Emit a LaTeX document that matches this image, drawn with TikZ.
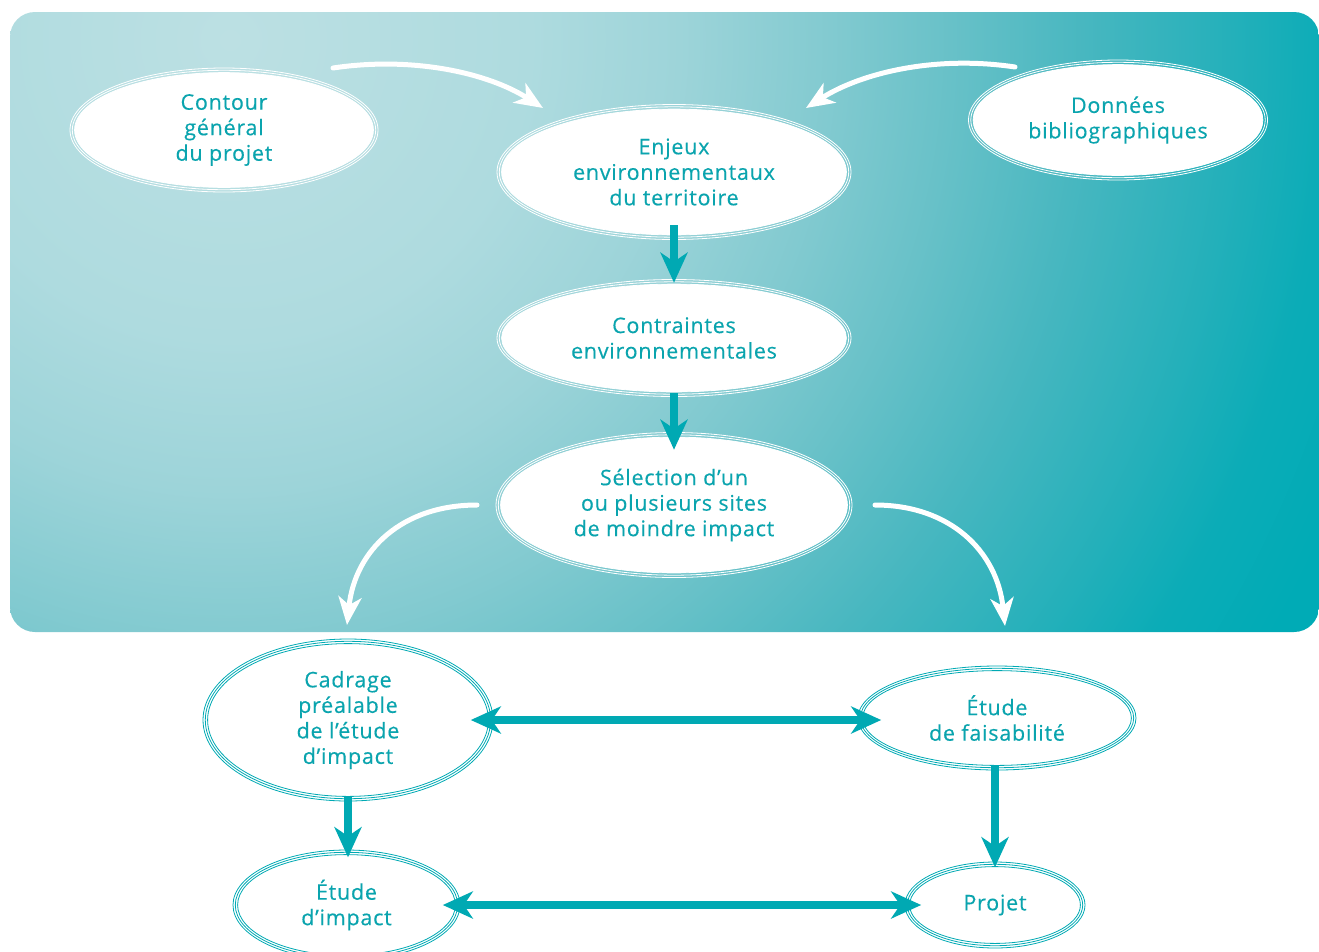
\documentclass[tikz,border=0pt]{standalone}
\usepackage{fontspec}
\setmainfont[LetterSpace=3.5,FakeBold=0.3]{Open Sans}
\usepackage{tikz}
\usetikzlibrary{arrows.meta,shapes.geometric,calc}

\definecolor{sarcelle}{HTML}{00A9B3}
\definecolor{texte}{HTML}{0AA4AE}
\definecolor{f0}{HTML}{BCE0E3}
\definecolor{f1}{HTML}{AEDBDF}
\definecolor{f2}{HTML}{9DD4D9}
\definecolor{f3}{HTML}{82CAD0}
\definecolor{f4}{HTML}{68C1C8}
\definecolor{f5}{HTML}{48B7C0}
\definecolor{f6}{HTML}{24B0BA}
\definecolor{f7}{HTML}{0BACB7}
\definecolor{f8}{HTML}{00ABB6}
\pgfdeclareradialshading{fond}{\pgfpointorigin}{color(0bp)=(f0); color(5bp)=(f1); color(7.5bp)=(f2); color(10bp)=(f3); color(12bp)=(f4); color(14.2bp)=(f5); color(16.7bp)=(f6); color(18.3bp)=(f7); color(20bp)=(f8); color(50bp)=(f8)}

% ellipse with a triple border: style, name, centre, width, height, text
\newcommand{\bulle}[6]{%
	\node[#1,minimum width=#4,minimum height=#5] (#2o) at (#3) {};
	\node[#1,minimum width=#4-4.6,minimum height=#5-4.6] (#2m) at (#3) {};
	\node[#1,fill=white,minimum width=#4-9.2,minimum height=#5-9.2] (#2) at (#3) {#6};
}

\begin{document}
\begin{tikzpicture}
	[x=1pt,y=-1pt,
	bulleH/.style={ellipse,draw=white,line width=0.8pt,inner sep=0pt,text=texte,align=center,font=\fontsize{21.5}{25.5}\selectfont},
	bulleB/.style={bulleH,draw=sarcelle},
	blanche/.style={white,line width=5pt,line cap=round,-{Stealth[length=28pt,width=23pt,inset=8pt]}},
	fleche/.style={sarcelle,line width=7.5pt,-{Stealth[length=30pt,width=27pt,inset=9pt]}},
	fleche2/.style={fleche,{Stealth[length=30pt,width=27pt,inset=9pt]}-{Stealth[length=30pt,width=27pt,inset=9pt]}}]
	\useasboundingbox (0,0) rectangle (1319,951);
	%BACKGROUND
	\begin{scope}
	\clip[rounded corners=25pt] (10,12) rectangle (1319,632);
	\shade[shading=fond] (230,40) circle (1500);
	\end{scope}
	%TOP
	\coordinate (c1) at (333,68);
	\coordinate (c2) at (543,108);
	\coordinate (d1) at (1015,67);
	\coordinate (d2) at (806,108);
	\coordinate (s1) at (477,505);
	\coordinate (s2) at (347,625);
	\coordinate (t1) at (875,505);
	\coordinate (t2) at (1005,626);
	\draw[blanche] (c1) .. controls +(80,-12) and +(-55,-35) .. (c2);
	\draw[blanche] (d1) .. controls +(-80,-12) and +(55,-35) .. (d2);
	\draw[blanche] (s1) .. controls +(-75,0) and +(8,-75) .. (s2);
	\draw[blanche] (t1) .. controls +(75,0) and +(-8,-75) .. (t2);
	\bulle{bulleH}{contour}{224,130}{308}{124}{Contour\\général\\du projet}
	\bulle{bulleH}{donnees}{1118,120}{299}{120}{Données\\bibliographiques}
	\bulle{bulleH}{enjeux}{674,172}{354}{135}{Enjeux\\environnementaux\\du territoire}
	\bulle{bulleH}{contraintes}{674,338}{354}{117}{Contraintes\\environnementales}
	\bulle{bulleH}{selection}{674,505}{356}{145}{Sélection d’un\\ou plusieurs sites\\de moindre impact}
	\path[fleche,shorten <=-10pt,shorten >=1pt] (enjeux.south) edge (contraintes.north);
	\path[fleche,shorten <=1pt,shorten >=-13pt] (contraintes.south) edge (selection.north);
	%BOTTOM
	\bulle{bulleB}{cadrage}{348,720}{290}{162}{Cadrage\\préalable\\de l’étude\\d’impact}
	\bulle{bulleB}{faisab}{997,718}{278}{104}{Étude\\de faisabilité}
	\bulle{bulleB}{impact}{346.5,905}{227}{110}{Étude\\d’impact}
	\bulle{bulleB}{projet}{995,905}{180}{86}{Projet}
	\path[fleche2,shorten <=-18pt,shorten >=-19pt] (cadrage.east) edge (cadrage.east -| faisab.west);
	\path[fleche2,shorten <=-13pt,shorten >=-12pt] (impact.east) edge (impact.east -| projet.west);
	\path[fleche,shorten <=0pt,shorten >=-3pt] (cadrage.south) edge (cadrage.south |- impact.north);
	\path[fleche,shorten <=0pt,shorten >=-1pt] (projet.north |- faisab.south) edge (projet.north);
\end{tikzpicture}
\end{document}
